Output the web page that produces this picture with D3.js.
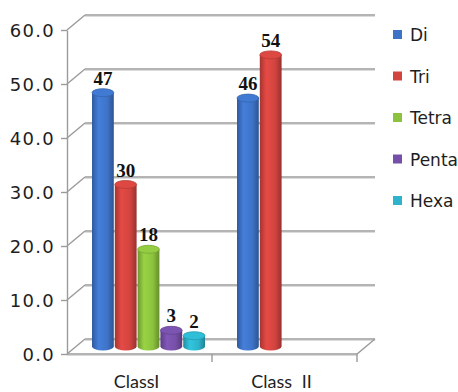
<!DOCTYPE html>
<html>
<head>
<meta charset="utf-8">
<script src="https://cdn.jsdelivr.net/npm/d3@7"></script>
<style>
  html, body { margin: 0; padding: 0; background: #fff; }
  svg { display: block; }
</style>
</head>
<body>
<svg id="chart" width="458" height="392"></svg>
<script>
// Chart data
const categories = ["ClassI", "Class II"];
const series = ["Di", "Tri", "Tetra", "Penta", "Hexa"];
const classIValues = [47, 30, 18, 3, 2];
const classIIValues = [46, 54, null, null, null];
const yTicks = [0, 10, 20, 30, 40, 50, 60];
const seriesColors = ["#3e74c8", "#d2443f", "#8cc23e", "#7650a8", "#2db4cc"];

const values = [classIValues, classIIValues];

const svg = d3.select("#chart");

// Front plane of the 3D box and depth offset
const frontLeft = 67, frontRight = 357;
const depthX = 18, depthY = -15;

const y = d3.scaleLinear().domain([0, 60]).range([354, 30]);
const x0 = d3.scaleBand().domain(categories).range([frontLeft, frontRight]);
const groupWidth = 114;
const x1 = d3.scaleBand().domain(series).range([0, groupWidth]);
const color = d3.scaleOrdinal().domain(series).range(seriesColors);

const gridColor = "#9b9b9b";
const walls = svg.append("g");

// Back-wall gridlines plus the diagonals on the side wall
yTicks.forEach(t => {
  const yf = y(t);
  walls.append("line")
    .attr("x1", frontLeft + depthX).attr("x2", frontRight + depthX)
    .attr("y1", yf + depthY + 1.5).attr("y2", yf + depthY + 1.5)
    .attr("stroke", "#dcdcdc").attr("stroke-width", 1.2);
  walls.append("line")
    .attr("x1", frontLeft + depthX).attr("x2", frontRight + depthX)
    .attr("y1", yf + depthY).attr("y2", yf + depthY)
    .attr("stroke", gridColor).attr("stroke-width", 1.4);
  walls.append("line")
    .attr("x1", frontLeft).attr("y1", yf)
    .attr("x2", frontLeft + depthX).attr("y2", yf + depthY)
    .attr("stroke", gridColor).attr("stroke-width", 1.4);
});

// Floor outline
const y0 = y(0);
walls.append("path")
  .attr("d", `M${frontLeft},${y0}L${frontRight},${y0}L${frontRight + depthX},${y0 + depthY}`)
  .attr("fill", "none").attr("stroke", gridColor).attr("stroke-width", 1.4);
walls.append("line")
  .attr("x1", frontLeft).attr("x2", frontRight)
  .attr("y1", y0 + 1.5).attr("y2", y0 + 1.5)
  .attr("stroke", "#d8d8d8").attr("stroke-width", 1.2);

// Category boundary ticks on the floor
categories.forEach(c => {
  const xr = x0(c) + x0.bandwidth();
  walls.append("line")
    .attr("x1", xr).attr("x2", xr)
    .attr("y1", y0).attr("y2", y0 + 8)
    .attr("stroke", gridColor).attr("stroke-width", 1.4);
});

// Value axis
const axis = svg.append("g")
  .attr("transform", `translate(${frontLeft},0)`)
  .call(d3.axisLeft(y).tickValues(yTicks).tickFormat(d3.format(".1f"))
    .tickSize(6).tickSizeOuter(0).tickPadding(6));
axis.select(".domain").attr("stroke", gridColor).attr("stroke-width", 1.4);
axis.selectAll(".tick line").attr("stroke", gridColor).attr("stroke-width", 1.4);
axis.selectAll(".tick text")
  .attr("fill", "#1e1e1e")
  .attr("dy", "0.36em")
  .style("font-family", "'DejaVu Sans', sans-serif")
  .style("font-size", "18px")
  .style("letter-spacing", "1.3px");

// Category labels
svg.append("g").selectAll("text")
  .data(categories)
  .join("text")
  .attr("x", d => x0(d) + x0.bandwidth() / 2 - 3)
  .attr("y", 388)
  .attr("text-anchor", "middle")
  .attr("fill", "#1e1e1e")
  .style("font-family", "Lato, sans-serif")
  .style("font-size", "18px")
  .style("word-spacing", "5px")
  .text(d => d);

// Cylinder gradients
const defs = svg.append("defs");
series.forEach((s, i) => {
  const base = d3.color(color(s));
  const g = defs.append("linearGradient")
    .attr("id", "cyl" + i)
    .attr("x1", "0%").attr("x2", "100%").attr("y1", "0%").attr("y2", "0%");
  g.append("stop").attr("offset", "0%").attr("stop-color", base.darker(0.7));
  g.append("stop").attr("offset", "30%").attr("stop-color", base.brighter(0.25));
  g.append("stop").attr("offset", "70%").attr("stop-color", base);
  g.append("stop").attr("offset", "100%").attr("stop-color", base.darker(0.9));
});

// Cylinder bars sit halfway into the depth of the box
const midX = depthX / 2, midY = depthY / 2;
const bw = x1.bandwidth();
const ry = 4;
const bars = [];
categories.forEach((c, ci) => {
  series.forEach((s, si) => {
    const v = values[ci][si];
    if (v == null) return;
    bars.push({ c, s, si, v });
  });
});

const barG = svg.append("g");
bars.forEach(d => {
  const left = x0(d.c) + (x0.bandwidth() - groupWidth) / 2 + x1(d.s) + midX;
  const cx = left + bw / 2;
  const top = y(d.v) + midY;
  const bottom = y(0) + midY;
  const rx = bw / 2 - 0.5;
  const g = barG.append("g");
  g.append("path")
    .attr("d", `M${cx - rx},${top}L${cx - rx},${bottom}A${rx},${ry} 0 0 0 ${cx + rx},${bottom}L${cx + rx},${top}Z`)
    .attr("fill", `url(#cyl${d.si})`);
  g.append("ellipse")
    .attr("cx", cx).attr("cy", top).attr("rx", rx).attr("ry", ry)
    .attr("fill", d3.color(color(d.s)).brighter(0.15))
    .attr("stroke", d3.color(color(d.s)).darker(0.4)).attr("stroke-width", 0.8);

  // Value label
  svg.append("text")
    .attr("x", cx)
    .attr("y", top - 8)
    .attr("text-anchor", "middle")
    .attr("fill", "#111")
    .style("font-family", "'Liberation Serif', 'Times New Roman', serif")
    .style("font-weight", "bold")
    .style("font-size", "19px")
    .text(d.v);
});

// Legend
const legend = svg.append("g").attr("transform", "translate(393,35)");
const row = legend.selectAll("g").data(series).join("g")
  .attr("transform", (d, i) => `translate(0,${i * 41.5})`);
row.append("rect")
  .attr("x", 0).attr("y", -5).attr("width", 9).attr("height", 9)
  .attr("fill", d => color(d));
row.append("text")
  .attr("x", 17).attr("y", 6)
  .attr("fill", "#1e1e1e")
  .style("font-family", "'DejaVu Sans', sans-serif")
  .style("font-size", "17px")
  .text(d => d);
</script>
</body>
</html>
